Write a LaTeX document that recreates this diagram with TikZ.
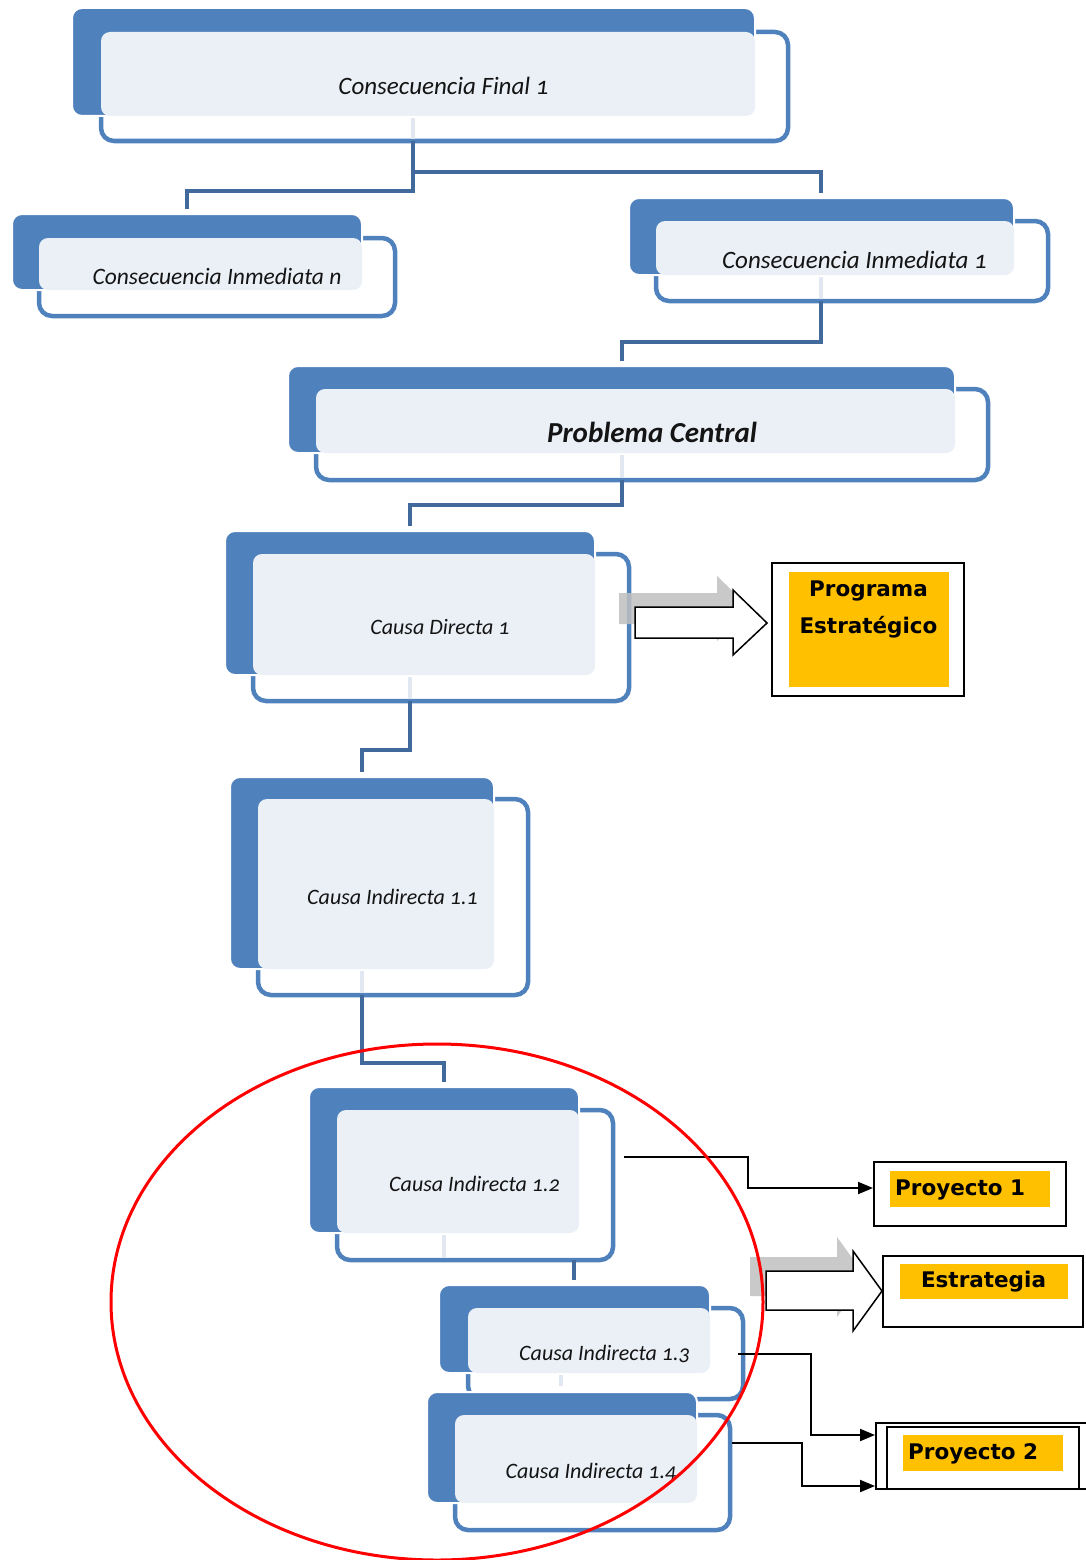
\documentclass[tikz,border=0pt]{standalone}
\usepackage{fontspec}
\setmainfont{Carlito}[Numbers=OldStyle]
\newfontfamily\tagfont{DejaVu Sans}
\usetikzlibrary{fit,arrows.meta}

\definecolor{accent}{HTML}{4F81BD}
\definecolor{tint}{HTML}{EBF0F7}
\definecolor{ghostline}{HTML}{E2E8F1}
\definecolor{linkblue}{HTML}{41699B}
\definecolor{tagfill}{HTML}{FFC000}
\definecolor{shade}{HTML}{BFBFBF}
\definecolor{ink}{HTML}{141414}

\tikzset{
  frontbox/.style={draw=accent, line width=4.5pt, fill=white, rounded corners=13pt, inner sep=0pt, outer sep=0pt},
  backbox/.style={fill=accent, draw=white, line width=2pt, rounded corners=10pt, inner sep=0pt, outer sep=0pt},
  tintbox/.style={fill=tint, rounded corners=9pt},
  boxlabel/.style={anchor=base, inner sep=0pt, text=ink},
  link/.style={draw=linkblue, line width=4pt, shorten >=5pt},
  ghost/.style={draw=ghostline, line width=4pt},
  tagframe/.style={draw=black, line width=1.8pt, fill=white, inner sep=0pt, outer sep=0pt},
  tagbox/.style={fill=tagfill, inner sep=0pt, outer sep=0pt},
  taglabel/.style={inner sep=0pt, text=black, font=\tagfont\bfseries\fontsize{21.5}{25}\selectfont},
  pline/.style={draw=black, line width=2pt, -{Triangle[length=15pt,width=12pt]}, shorten >=1pt},
  blockarrow/.style={draw=black, line width=1.5pt, fill=white, line join=miter},
  blockshade/.style={fill=shade, opacity=0.85},
}

% back accent plate, outlined front card and the tinted overlap
% #1 name, #2-#5 back plate corners, #6-#9 front card corners
\newcommand\accentpair[9]{%
  \node[frontbox, fit={(#6,#7) (#8,#9)}] (#1-f) {};
  \node[backbox, fit={(#2,#3) (#4,#5)}] (#1-b) {};
  \path[tintbox] (#6,#7) rectangle (#4,#5);
}

\begin{document}
\begin{tikzpicture}[x=1pt,y=-1pt]
\useasboundingbox (0,0) rectangle (1085,1560);

% ---------- cards ----------
\accentpair{cf1}{72}{8}{755}{116}{101}{32}{788}{141}
\accentpair{cin}{12}{214}{362}{290}{39}{238}{395}{316}
\accentpair{ci1}{629}{198}{1014}{275}{656}{221}{1048}{301}
\accentpair{pc}{288}{366}{955}{453}{316}{389}{988}{480}
\accentpair{cd1}{225}{531}{595}{675}{253}{554}{629}{701}
\accentpair{c11}{230}{777}{494}{969}{258}{799}{528}{995}
\accentpair{c12}{309}{1087}{579}{1233}{337}{1110}{613}{1260}
\accentpair{c13}{439}{1285}{710}{1373}{468}{1308}{743}{1399}
\accentpair{c14}{427}{1392}{697}{1503}{455}{1415}{730}{1530}

% faint stubs of the links seen through the cards
\draw[ghost] (413,118) -- (413,139);
\draw[ghost] (821,277) -- (821,299);
\draw[ghost] (622,455) -- (622,478);
\draw[ghost] (410,677) -- (410,699);
\draw[ghost] (362,971) -- (362,993);
\draw[ghost] (444,1235) -- (444,1258);
\draw[ghost] (561,1375) -- (561,1386);

% ---------- card labels ----------
\node[boxlabel, font=\itshape\fontsize{25}{30}\selectfont] (cf1-t) at (443.5,95) {Consecuencia Final 1};
\node[boxlabel, font=\itshape\fontsize{23.5}{28}\selectfont] (cin-t) at (217,284) {Consecuencia Inmediata n};
\node[boxlabel, font=\itshape\fontsize{25}{30}\selectfont] (ci1-t) at (854.5,268) {Consecuencia Inmediata 1};
\node[boxlabel, font=\bfseries\itshape\fontsize{29}{34}\selectfont] (pc-t) at (652,442) {Problema Central};
\node[boxlabel, font=\itshape\fontsize{22}{26}\selectfont] (cd1-t) at (440,634) {Causa Directa 1};
\node[boxlabel, font=\itshape\fontsize{22}{26}\selectfont] (c11-t) at (392.5,904) {Causa Indirecta 1.1};
\node[boxlabel, font=\itshape\fontsize{22}{26}\selectfont] (c12-t) at (474.5,1191) {Causa Indirecta 1.2};
\node[boxlabel, font=\itshape\fontsize{22}{26}\selectfont] (c13-t) at (604.5,1360) {Causa Indirecta 1.3};
\node[boxlabel, font=\itshape\fontsize{22}{26}\selectfont] (c14-t) at (591,1478) {Causa Indirecta 1.4};

% ---------- tree links ----------
\draw[link] (413,0 |- cf1-f.south) |- (187,191) -- (187,0 |- cin-b.north);
\draw[link] (413,0 |- cf1-f.south) |- (821,172) -- (821,0 |- ci1-b.north);
\draw[link] (821,0 |- ci1-f.south) |- (622,342) -- (622,0 |- pc-b.north);
\draw[link] (622,0 |- pc-f.south) |- (410,505) -- (410,0 |- cd1-b.north);
\draw[link] (410,0 |- cd1-f.south) |- (362,750) -- (362,0 |- c11-b.north);
\draw[link] (362,0 |- c11-f.south) |- (444,1063) -- (444,0 |- c12-b.north);
\draw[link] (574,0 |- c12-f.south) -- (574,0 |- c13-b.north);

% ---------- program / project tags ----------
\node[tagframe, fit={(772,563) (964,696)}] (pe-o) {};
\node[tagbox, fit={(789,572) (949,687)}] (pe-i) {};
\node[taglabel, anchor=base] (pe-1) at (868.5,596) {Programa};
\node[taglabel, anchor=base] (pe-2) at (868.5,633) {Estratégico};

\node[tagframe, fit={(874,1162) (1066,1226)}] (p1-o) {};
\node[tagbox, fit={(890,1171) (1050,1207)}] (p1-i) {};
\node[taglabel, anchor=base west] (p1-t) at (895,1195) {Proyecto 1};

\node[tagframe, fit={(883,1256) (1083,1327)}] (es-o) {};
\node[tagbox, fit={(900,1264) (1068,1299)}] (es-i) {};
\node[taglabel, anchor=base] (es-t) at (983.5,1287) {Estrategia};

\node[tagframe, fit={(876,1423) (1096,1489)}] (p2-o) {};
\node[tagframe, fit={(887,1427) (1079,1489)}] (p2-f) {};
\node[tagbox, fit={(903,1435) (1063,1471)}] (p2-i) {};
\node[taglabel, anchor=base west] (p2-t) at (908,1459) {Proyecto 2};

% ---------- block arrows ----------
\fill[blockshade] (619,593) -- (717,593) -- (717,576) -- (751,609) -- (717,641) -- (717,624) -- (619,624) -- cycle;
\draw[blockarrow] (635,607) -- (733,607) -- (733,590) -- (767,623) -- (733,655) -- (733,638) -- (635,638) -- cycle;

\fill[blockshade] (750,1257) -- (837,1257) -- (837,1237) -- (866,1277) -- (837,1317) -- (837,1296) -- (750,1296) -- cycle;
\draw[blockarrow] (766,1271) -- (853,1271) -- (853,1251) -- (882,1291) -- (853,1331) -- (853,1310) -- (766,1310) -- cycle;

% ---------- project links ----------
\coordinate (s12) at (624,1157);
\coordinate (s13) at (738,1354);
\coordinate (s14) at (732,1443);
\draw[pline] (s12) -| (748,1188) -- (p1-o.west |- 0,1188);
\draw[pline] (s13) -| (811,1435) -- (p2-o.west |- 0,1435);
\draw[pline] (s14) -| (802,1486) -- (p2-o.west |- 0,1486);

% ---------- highlighted group ----------
\draw[red, line width=3pt] (437,1302) ellipse [x radius=326, y radius=258];
\end{tikzpicture}
\end{document}
